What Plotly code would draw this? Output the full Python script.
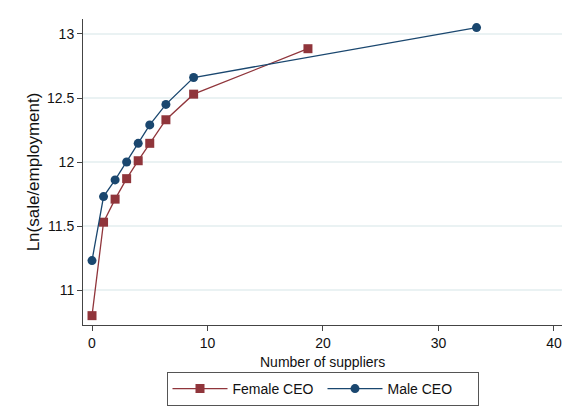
import plotly.graph_objects as go

# values
female_x = [0, 1.0, 2.0, 3.0, 4.0, 5.0, 6.4, 8.8, 18.7]
female_y = [10.80, 11.53, 11.71, 11.87, 12.01, 12.146, 12.33, 12.53, 12.885]
male_x = [0, 1.0, 2.0, 3.0, 4.0, 5.0, 6.4, 8.8, 33.3]
male_y = [11.23, 11.73, 11.86, 12.0, 12.146, 12.29, 12.45, 12.66, 13.05]

x_ticks = [0, 10, 20, 30, 40]
y_ticks = [11, 11.5, 12, 12.5, 13]

fig = go.Figure()

fig.add_trace(go.Scatter(x=female_x, y=female_y, mode="lines+markers",
                         name="Female CEO",
                         line=dict(color="#90353b", width=1.3),
                         marker=dict(symbol="square", size=9, color="#90353b")))

fig.add_trace(go.Scatter(x=male_x, y=male_y, mode="lines+markers",
                         name="Male CEO",
                         line=dict(color="#1a476f", width=1.3),
                         marker=dict(symbol="circle", size=9, color="#1a476f")))

# page body has an 8px margin, so the figure is a bit smaller than the window
fig.update_layout(
    width=567, height=400,
    margin=dict(l=75, r=13, t=11, b=83),
    paper_bgcolor="white", plot_bgcolor="white",
    font=dict(family="Liberation Sans, Arial", size=14, color="#111"),
    # container ref so the legend doesn't push the bottom margin
    legend=dict(orientation="h", x=0.5, xanchor="center",
                yref="container", y=0.09, yanchor="top",
                bordercolor="#555", borderwidth=1, font=dict(size=14),
                entrywidth=85, itemwidth=55),
    xaxis=dict(range=[-0.78, 40.7], tickvals=x_ticks, showgrid=False,
               zeroline=False, showline=True, linecolor="#444", linewidth=1,
               ticks="outside", ticklen=5, tickcolor="#444", automargin=False,
               ticklabelstandoff=0),
    yaxis=dict(range=[10.727, 13.117], tickvals=y_ticks,
               ticktext=["11", "11.5", "12", "12.5", "13"],
               showgrid=True, gridcolor="#eaf2f3", gridwidth=1.5,
               zeroline=False, showline=True, linecolor="#444", linewidth=1,
               ticks="outside", ticklen=5, tickcolor="#444", automargin=False,
               title=dict(text="Ln(sale/employment)", standoff=3)),
)

# x title as annotation, sits closer to the tick labels than standoff allows
fig.add_annotation(text="Number of suppliers", xref="paper", yref="paper",
                   x=0.5, y=-0.12, yanchor="middle", showarrow=False,
                   font=dict(size=14))

fig.write_html("out.html")
